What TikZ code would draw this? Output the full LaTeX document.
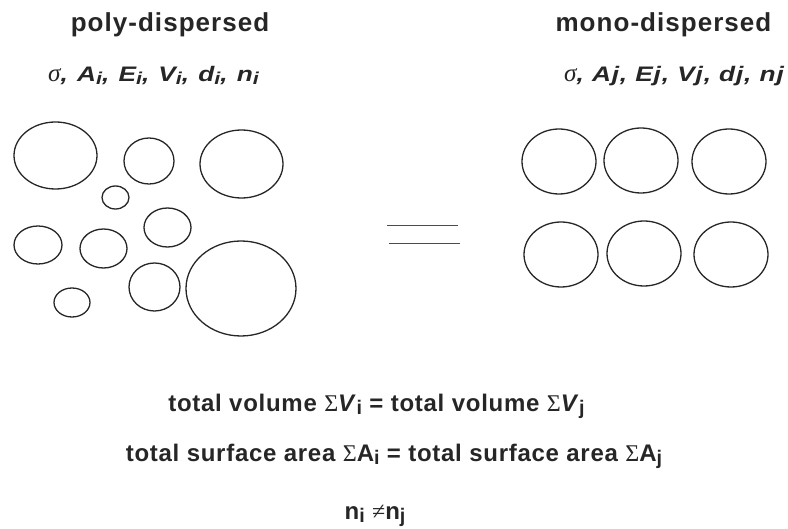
\documentclass[tikz,border=0pt]{standalone}
\usepackage{fontspec}
\setmainfont{Liberation Sans}
\newfontfamily\headfont{Liberation Sans}[LetterSpace=4]
\newfontfamily\varfont{Liberation Sans}[LetterSpace=9,FakeStretch=1.25]
\newfontfamily\varfontnarrow{Liberation Sans}[LetterSpace=4,FakeStretch=1.25]
\newfontfamily\bodyfont{Liberation Sans}[LetterSpace=3]
\newfontfamily\symfont{Liberation Serif}
\newcommand\lowsub[1]{\raisebox{-0.25ex}{\scalebox{0.82}{#1}}}
\newcommand\sigmavar{{\symfont\mdseries\itshape\scalebox{1.2}{σ}}}

\begin{document}
\begin{tikzpicture}[x=1pt,y=-1pt,
  bubble/.style={line width=1.3pt,black!85},
  label/.style={inner sep=0pt,text=black!85,anchor=base},
  eqline/.style={line width=1pt,black!70}]
\useasboundingbox (0,0) rectangle (788,529);
% headings
\node[label,font=\fontsize{26}{26}\selectfont] (polyhead) at (170,31.5) {\headfont\bfseries poly-dispersed};
\node[label,font=\fontsize{26}{26}\selectfont] (monohead) at (663.5,31.5) {\headfont\bfseries mono-dispersed};
\node[label,anchor=base west,font=\fontsize{21}{21}\selectfont] (polyvars) at (48,81.5) {\varfont\bfseries\itshape \sigmavar, A\lowsub{i}, E\lowsub{i}, V\lowsub{i}, d\lowsub{i}, n\lowsub{i}};
\node[label,anchor=base east,font=\fontsize{21}{21}\selectfont] (monovars) at (784,81.5) {\varfontnarrow\bfseries\itshape \sigmavar, Aj, Ej, Vj, dj, nj};
% poly-dispersed bubbles
\draw[bubble] (55.5,155.5) ellipse [x radius=41.5pt,y radius=33.5pt];
\draw[bubble] (149,161) ellipse [x radius=25pt,y radius=23pt];
\draw[bubble] (241.5,164) ellipse [x radius=41.5pt,y radius=34pt];
\draw[bubble] (115.5,197.5) ellipse [x radius=13.5pt,y radius=11.5pt];
\draw[bubble] (167.5,227.5) ellipse [x radius=23.5pt,y radius=19.5pt];
\draw[bubble] (38,245) ellipse [x radius=24pt,y radius=19pt];
\draw[bubble] (103.5,248.5) ellipse [x radius=23.5pt,y radius=19.5pt];
\draw[bubble] (154.5,287) ellipse [x radius=25.5pt,y radius=24pt];
\draw[bubble] (241,288.5) ellipse [x radius=55pt,y radius=47.5pt];
\draw[bubble] (72,302.5) ellipse [x radius=18pt,y radius=14.5pt];
% equals sign
\coordinate (eqa) at (387,226);
\coordinate (eqb) at (458,226);
\coordinate (eqc) at (389,244);
\coordinate (eqd) at (460,244);
\draw[eqline] (eqa) -- (eqb);
\draw[eqline] (eqc) -- (eqd);
% mono-dispersed bubbles
\draw[bubble] (559,161.5) ellipse [x radius=37pt,y radius=32.5pt];
\draw[bubble] (641,160.5) ellipse [x radius=37pt,y radius=32.5pt];
\draw[bubble] (729,161.5) ellipse [x radius=37pt,y radius=32.5pt];
\draw[bubble] (561,254.5) ellipse [x radius=37pt,y radius=32.5pt];
\draw[bubble] (644,253.5) ellipse [x radius=37pt,y radius=32.5pt];
\draw[bubble] (731,254.5) ellipse [x radius=37pt,y radius=32.5pt];
% balance
\node[label,font=\fontsize{24}{24}\selectfont] (volume) at (376.5,411.5) {\bodyfont\bfseries total volume {\symfont\mdseries Σ}\textit{V}\lowsub{i} = total volume {\symfont\mdseries Σ}\textit{V}\lowsub{j}};
\node[label,font=\fontsize{24}{24}\selectfont] (surface) at (394,461.5) {\bodyfont\bfseries total surface area {\symfont\mdseries Σ}A\lowsub{i} = total surface area {\symfont\mdseries Σ}A\lowsub{j}};
\node[label,font=\fontsize{24}{24}\selectfont] (count) at (375,519) {\bodyfont\bfseries n\lowsub{i} {\symfont\mdseries ≠}n\lowsub{j}};
\end{tikzpicture}
\end{document}
